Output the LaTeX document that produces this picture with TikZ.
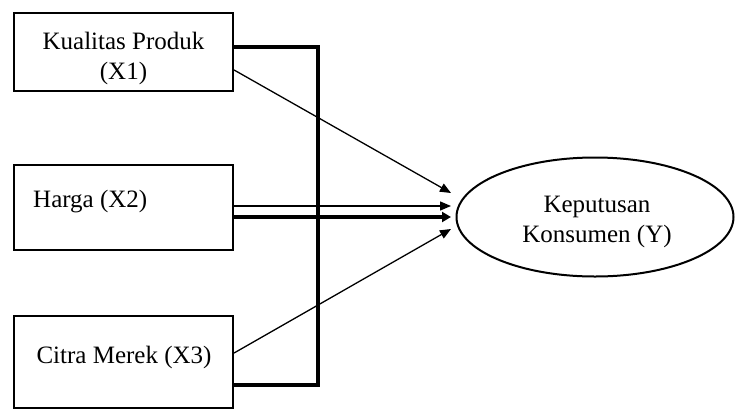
\documentclass[tikz,border=0pt]{standalone}
\usepackage{fontspec}
\setmainfont{Liberation Serif}
\usetikzlibrary{arrows.meta,shapes.geometric}
\begin{document}
\begin{tikzpicture}[x=1pt,y=-1pt,
  box/.style={draw,line width=2.2pt,minimum width=219pt,inner sep=0pt},
  txt/.style={font=\fontsize{25}{30}\selectfont,inner sep=0pt,align=center},
  thickline/.style={line width=3.8pt},
  thinline/.style={line width=1.3pt,-{Triangle[length=11pt,width=9pt]}},
  thickarrow/.style={line width=3.2pt,-{Triangle[length=9pt,width=10pt]}}]
\useasboundingbox (0,0) rectangle (736,410);
\node[box,minimum height=78pt] (b1) at (123.5,52) {};
\node[box,minimum height=85pt] (b2) at (123.5,207.5) {};
\node[box,minimum height=92pt] (b3) at (123.5,362) {};
\node[txt] (l1) at (123.5,58) {Kualitas Produk\\(X1)};
\node[txt,anchor=west] (l2) at (33,202) {Harga (X2)};
\node[txt] (l3) at (124,357) {Citra Merek (X3)};
\node[ellipse,draw,line width=2pt,minimum width=277pt,minimum height=119pt,inner sep=0pt] (y) at (595,217) {};
\node[txt] (ly) at (597,222) {Keputusan\\Konsumen (Y)};
\coordinate (k1) at (318,47);
\coordinate (k2) at (318,385);
\coordinate (t1) at (451,193);
\coordinate (t2) at (451,206);
\coordinate (t3) at (451,217);
\coordinate (t4) at (451,229);
\draw[thickline] (b1.east |- k1) -- (k1) -- (k2) -- (b3.east |- k2);
\draw[thinline] ([yshift=-18pt]b1.east) -- (t1);
\draw[thinline] (b2.east |- t2) -- (t2);
\draw[thickarrow] (b2.east |- t3) -- (t3);
\draw[thinline] ([yshift=9pt]b3.east) -- (t4);
\end{tikzpicture}
\end{document}
